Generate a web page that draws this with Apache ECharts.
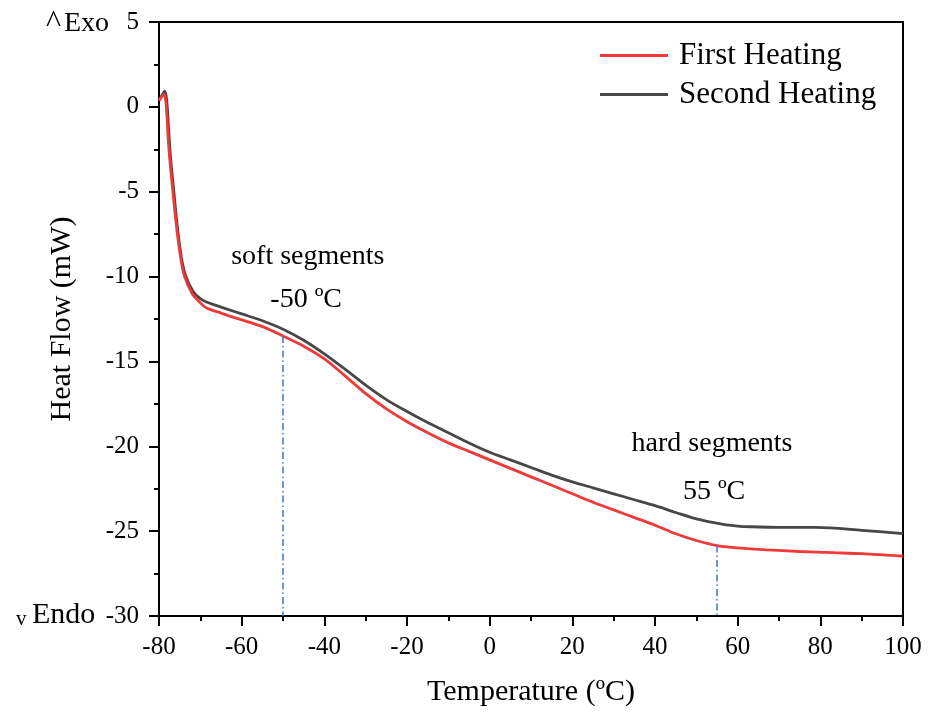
<!DOCTYPE html>
<html>
<head>
<meta charset="utf-8">
<script src="https://cdn.jsdelivr.net/npm/echarts@6/dist/echarts.min.js"></script>
<style>
  html, body { margin: 0; padding: 0; background: #fff; }
  #chart { width: 936px; height: 712px; }
</style>
</head>
<body>
<div id="chart"></div>
<script>
// DSC thermogram: heat flow versus temperature for two heating runs
const firstTemp = [-80, -79.5, -78.8, -78.3, -77.8, -77.4, -76.6, -75.8, -74.7, -73.8, -72.0, -70, -68.5, -65, -62, -60, -55, -50, -45, -40, -35, -30, -25, -20, -15, -10, -5, 0, 5, 10, 15, 20, 25, 30, 35, 40, 45, 50, 55, 60, 67, 75, 83, 90, 100];
const firstFlow = [0.35, 0.55, 0.75, 0.2, -1.8, -3.1, -5.1, -7.0, -9.0, -10.0, -11.0, -11.55, -11.85, -12.15, -12.4, -12.55, -12.95, -13.5, -14.1, -14.85, -15.85, -16.9, -17.8, -18.55, -19.2, -19.8, -20.3, -20.8, -21.3, -21.8, -22.3, -22.8, -23.3, -23.75, -24.2, -24.65, -25.15, -25.55, -25.85, -25.98, -26.1, -26.2, -26.27, -26.33, -26.48];

const secondTemp = [-80, -79.5, -78.6, -78.1, -77.6, -77.2, -76.4, -75.6, -74.5, -73.5, -71.7, -70, -68.5, -65, -60, -55, -50, -45, -40, -35, -30, -25, -20, -15, -10, -5, 0, 5, 10, 15, 20, 25, 30, 35, 40, 45, 50, 56.5, 60, 63, 70, 79, 90, 100];
const secondFlow = [0.4, 0.6, 0.92, 0.3, -1.6, -3.0, -5.0, -7.0, -9.0, -10.0, -10.9, -11.3, -11.5, -11.8, -12.2, -12.6, -13.1, -13.75, -14.55, -15.45, -16.4, -17.25, -17.95, -18.6, -19.2, -19.8, -20.35, -20.8, -21.25, -21.7, -22.1, -22.45, -22.8, -23.15, -23.5, -23.9, -24.28, -24.6, -24.7, -24.74, -24.78, -24.78, -24.95, -25.15];

const seriesNames = ['First Heating', 'Second Heating'];

// Glass transitions marked on the first heating curve
const transitionTemps = [-50, 55];
const transitionText = [['soft segments', '-50 ºC'], ['hard segments', '55 ºC']];
const transitionTextPos = [[[-44, -8.85], [-44.4, -11.35]], [[53.8, -19.85], [54.3, -22.65]]];

const xTicks = { min: -80, max: 100, step: 20 };
const yTicks = { min: -30, max: 5, step: 5 };

const pairs = (xs, ys) => xs.map((x, i) => [x, ys[i]]);
const flowAt = (t) => firstFlow[firstTemp.indexOf(t)];

const serif = 'Liberation Serif, Times New Roman, serif';
const redColor = '#F03A3A';
const greyColor = '#474747';
const chart = echarts.init(document.getElementById('chart'));

const labelPoints = [];
transitionText.forEach((lines, i) => {
  lines.forEach((txt, j) => {
    labelPoints.push({ value: transitionTextPos[i][j], label: { formatter: txt } });
  });
});

chart.setOption({
  backgroundColor: '#fff',
  animation: false,
  textStyle: { fontFamily: serif, color: '#000' },
  grid: {
    left: 159, right: 33, top: 22, bottom: 96,
    show: true, borderColor: '#000', borderWidth: 2
  },
  legend: {
    data: [
      { name: seriesNames[0], icon: 'rect', itemStyle: { color: redColor } },
      { name: seriesNames[1], icon: 'rect', itemStyle: { color: greyColor } }
    ],
    orient: 'vertical',
    left: 595, top: 35,
    itemWidth: 68, itemHeight: 3, itemGap: 8,
    textStyle: { fontFamily: serif, fontSize: 31, color: '#000', padding: [0, 0, 0, 6] }
  },
  xAxis: {
    type: 'value',
    min: xTicks.min, max: xTicks.max, interval: xTicks.step,
    name: 'Temperature (ºC)',
    nameLocation: 'middle', nameGap: 61,
    nameTextStyle: { fontFamily: serif, fontSize: 30, color: '#000' },
    axisLine: { onZero: false, lineStyle: { color: '#000', width: 2 } },
    axisTick: { show: true, inside: false, length: 10, lineStyle: { color: '#000', width: 2 } },
    minorTick: { show: true, splitNumber: 2, length: 5, lineStyle: { color: '#000', width: 2 } },
    axisLabel: { fontFamily: serif, fontSize: 25, color: '#000', margin: 19 },
    splitLine: { show: false }
  },
  yAxis: {
    type: 'value',
    min: yTicks.min, max: yTicks.max, interval: yTicks.step,
    name: 'Heat Flow (mW)',
    nameLocation: 'middle', nameGap: 82, nameRotate: 90,
    nameTextStyle: { fontFamily: serif, fontSize: 30, color: '#000' },
    axisLine: { onZero: false, lineStyle: { color: '#000', width: 2 } },
    axisTick: { show: true, inside: false, length: 10, lineStyle: { color: '#000', width: 2 } },
    minorTick: { show: true, splitNumber: 2, length: 5, lineStyle: { color: '#000', width: 2 } },
    axisLabel: { fontFamily: serif, fontSize: 25, color: '#000', margin: 20 },
    splitLine: { show: false }
  },
  graphic: [
    {
      type: 'text', left: 46, top: 8,
      style: {
        text: '{c|^}{b|Exo}',
        rich: {
          c: { font: '32px ' + serif, fill: '#000', padding: [0, 3, 0, 0] },
          b: { font: '28px ' + serif, fill: '#000' }
        }
      }
    },
    {
      type: 'text', left: 16, top: 609,
      style: { text: 'v', font: '21px ' + serif, fill: '#000' }
    },
    {
      type: 'text', left: 32, top: 600,
      style: { text: 'Endo', font: '30px ' + serif, fill: '#000' }
    }
  ],
  series: [
    {
      name: seriesNames[1],
      type: 'line',
      data: pairs(secondTemp, secondFlow),
      smooth: 0.3,
      symbol: 'none',
      z: 2,
      lineStyle: { color: greyColor, width: 2.8 },
      itemStyle: { color: greyColor }
    },
    {
      name: seriesNames[0],
      type: 'line',
      data: pairs(firstTemp, firstFlow),
      smooth: 0.3,
      symbol: 'none',
      z: 3,
      lineStyle: { color: redColor, width: 2.8 },
      itemStyle: { color: redColor },
      markLine: {
        silent: true,
        symbol: ['none', 'none'],
        label: { show: false },
        lineStyle: { color: '#4472C4', width: 1.5, type: [7, 3, 1.5, 3] },
        data: transitionTemps.map(t => [
          { coord: [t, flowAt(t)] },
          { coord: [t, yTicks.min] }
        ])
      }
    },
    {
      name: 'labels',
      type: 'scatter',
      silent: true,
      symbolSize: 0,
      itemStyle: { opacity: 1 },
      data: labelPoints,
      label: {
        show: true, position: 'inside',
        fontFamily: serif, fontSize: 28, color: '#000', opacity: 1
      },
      z: 5
    }
  ]
});
</script>
</body>
</html>
